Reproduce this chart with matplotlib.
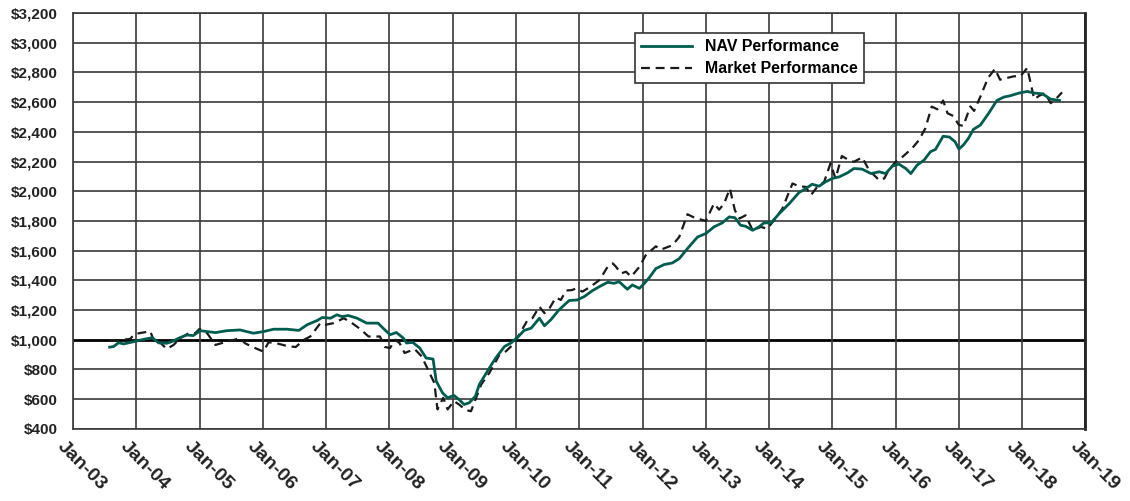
import matplotlib
matplotlib.use('Agg')
import matplotlib.pyplot as plt
import matplotlib.transforms as mtransforms
from matplotlib.ticker import FuncFormatter

plt.rcParams['font.family'] = ['Liberation Sans', 'DejaVu Sans']

# NAV performance, $ value of $1,000 invested (x = decimal year)
nav_years = [2003.58, 2003.64, 2003.72, 2003.80, 2003.96, 2004.12, 2004.25, 2004.35, 2004.48, 2004.56,
             2004.69, 2004.80, 2004.90, 2005.01, 2005.12, 2005.25, 2005.43, 2005.64, 2005.85, 2006.01,
             2006.17, 2006.38, 2006.57, 2006.70, 2006.86, 2006.94, 2007.07, 2007.17, 2007.25, 2007.35,
             2007.49, 2007.64, 2007.82, 2007.90, 2008.01, 2008.11, 2008.22, 2008.27, 2008.37, 2008.48,
             2008.58, 2008.69, 2008.74, 2008.84, 2008.92, 2009.02, 2009.10, 2009.18, 2009.26, 2009.36,
             2009.42, 2009.58, 2009.68, 2009.82, 2009.92, 2010.03, 2010.13, 2010.24, 2010.37, 2010.45,
             2010.55, 2010.68, 2010.84, 2010.97, 2011.08, 2011.21, 2011.32, 2011.45, 2011.55, 2011.63,
             2011.76, 2011.84, 2011.95, 2012.03, 2012.11, 2012.21, 2012.34, 2012.47, 2012.58, 2012.71,
             2012.87, 2013.00, 2013.13, 2013.26, 2013.37, 2013.46, 2013.55, 2013.63, 2013.74, 2013.84,
             2013.92, 2014.03, 2014.16, 2014.32, 2014.47, 2014.58, 2014.68, 2014.79, 2014.89, 2015.00,
             2015.11, 2015.24, 2015.34, 2015.47, 2015.61, 2015.74, 2015.84, 2015.95, 2016.05, 2016.16,
             2016.24, 2016.34, 2016.45, 2016.55, 2016.63, 2016.75, 2016.85, 2016.94, 2017.00, 2017.07,
             2017.15, 2017.23, 2017.34, 2017.47, 2017.60, 2017.71, 2017.81, 2017.95, 2018.08, 2018.19,
             2018.32, 2018.45, 2018.59]
nav_values = [950, 954, 980, 972, 987, 1003, 1014, 980, 976, 987,
              1014, 1032, 1028, 1061, 1055, 1048, 1061, 1066, 1044, 1055,
              1071, 1071, 1063, 1101, 1130, 1150, 1145, 1168, 1156, 1163,
              1145, 1112, 1112, 1078, 1034, 1049, 1011, 978, 982, 944,
              877, 870, 721, 642, 609, 625, 598, 564, 575, 620,
              698, 810, 877, 955, 978, 1018, 1063, 1078, 1145, 1094,
              1134, 1201, 1264, 1268, 1291, 1331, 1358, 1387, 1380, 1391,
              1340, 1369, 1346, 1380, 1420, 1479, 1506, 1517, 1546, 1614,
              1692, 1715, 1760, 1787, 1827, 1822, 1771, 1764, 1737, 1760,
              1787, 1787, 1849, 1917, 1990, 2018, 2047, 2034, 2063, 2086,
              2097, 2124, 2153, 2149, 2119, 2131, 2119, 2169, 2183, 2153,
              2119, 2176, 2210, 2266, 2282, 2370, 2365, 2333, 2284, 2311,
              2356, 2417, 2446, 2525, 2611, 2634, 2643, 2661, 2672, 2661,
              2656, 2620, 2611]

# Market performance
mkt_years = [2003.59, 2003.75, 2003.90, 2003.98, 2004.22, 2004.30, 2004.38, 2004.48, 2004.59, 2004.69,
             2004.83, 2004.93, 2005.00, 2005.12, 2005.25, 2005.43, 2005.64, 2005.72, 2005.85, 2006.01,
             2006.09, 2006.22, 2006.38, 2006.52, 2006.65, 2006.75, 2006.91, 2006.99, 2007.12, 2007.28,
             2007.41, 2007.54, 2007.67, 2007.85, 2007.93, 2008.01, 2008.09, 2008.16, 2008.24, 2008.40,
             2008.51, 2008.61, 2008.71, 2008.76, 2008.85, 2008.92, 2009.02, 2009.10, 2009.21, 2009.29,
             2009.36, 2009.45, 2009.58, 2009.74, 2009.84, 2009.95, 2010.05, 2010.18, 2010.26, 2010.37,
             2010.45, 2010.53, 2010.63, 2010.71, 2010.79, 2010.89, 2010.95, 2011.05, 2011.18, 2011.32,
             2011.45, 2011.53, 2011.58, 2011.66, 2011.74, 2011.82, 2011.95, 2012.05, 2012.21, 2012.29,
             2012.47, 2012.58, 2012.71, 2012.82, 2013.00, 2013.13, 2013.21, 2013.29, 2013.38, 2013.46,
             2013.53, 2013.63, 2013.74, 2013.87, 2013.97, 2014.08, 2014.21, 2014.37, 2014.47, 2014.58,
             2014.66, 2014.76, 2014.87, 2014.97, 2015.05, 2015.15, 2015.26, 2015.34, 2015.47, 2015.58,
             2015.74, 2015.82, 2015.89, 2016.00, 2016.11, 2016.26, 2016.37, 2016.47, 2016.57, 2016.66,
             2016.75, 2016.82, 2016.91, 2017.00, 2017.07, 2017.18, 2017.24, 2017.34, 2017.46, 2017.57,
             2017.65, 2017.76, 2017.87, 2017.97, 2018.08, 2018.19, 2018.27, 2018.36, 2018.45, 2018.53,
             2018.63]
mkt_values = [992, 999, 1005, 1039, 1057, 972, 980, 938, 965, 1010,
              1044, 1044, 1073, 1044, 965, 987, 1010, 976, 949, 920,
              983, 976, 958, 951, 1000, 1022, 1112, 1101, 1112, 1145,
              1112, 1072, 1022, 1022, 951, 944, 1000, 978, 911, 937,
              888, 799, 709, 531, 609, 531, 587, 564, 526, 519,
              598, 698, 777, 899, 922, 966, 1034, 1130, 1145, 1223,
              1179, 1212, 1284, 1268, 1331, 1335, 1346, 1324, 1358, 1402,
              1492, 1514, 1492, 1447, 1458, 1425, 1490, 1569, 1629, 1607,
              1636, 1692, 1845, 1822, 1800, 1917, 1876, 1917, 2018, 1872,
              1816, 1838, 1737, 1760, 1748, 1804, 1883, 2052, 2034, 2029,
              1973, 2029, 2063, 2187, 2086, 2237, 2210, 2198, 2228, 2142,
              2074, 2086, 2142, 2198, 2232, 2289, 2345, 2424, 2570, 2552,
              2611, 2525, 2507, 2446, 2440, 2571, 2541, 2638, 2763, 2824,
              2751, 2763, 2774, 2774, 2830, 2620, 2643, 2661, 2593, 2620,
              2666]

tick_years = list(range(2003, 2020))
tick_labels = ['Jan-%02d' % (y % 100) for y in tick_years]
y_ticks = list(range(400, 3201, 200))

fig = plt.figure(figsize=(11.3, 5.01), dpi=100)
ax = fig.add_axes([0.0646, 0.144, 0.8960, 0.830])

grid_color = '#3a3a3a'
for y in y_ticks:
    ax.axhline(y, color='black' if y == 1000 else grid_color,
               lw=2.0 if y == 1000 else 1.2, zorder=1)
for x in tick_years:
    ax.axvline(x, color=grid_color, lw=1.2, zorder=1)

ax.plot(mkt_years, mkt_values, color='#1a1a1a', lw=1.6, ls=(0, (4, 2.6)),
        label='Market Performance', zorder=3)
ax.plot(nav_years, nav_values, color='#005c4e', lw=2.0,
        label='NAV Performance', zorder=4)

ax.set_xlim(2003, 2019)
ax.set_ylim(400, 3200)
ax.set_yticks(y_ticks)
ax.yaxis.set_major_formatter(FuncFormatter(lambda v, p: '${:,.0f}'.format(v)))
ax.set_xticks(tick_years)
ax.set_xticklabels(tick_labels, rotation=-45, ha='left', va='top',
                   rotation_mode='anchor')
ax.tick_params(axis='both', length=0)
ax.tick_params(axis='y', labelsize=11, pad=11)
ax.tick_params(axis='x', labelsize=14, pad=0)
for lab in ax.get_yticklabels():
    lab.set_fontweight('bold')
    lab.set_color('#222222')
x_shift = mtransforms.ScaledTranslation(-0.07, -0.09, fig.dpi_scale_trans)
for lab in ax.get_xticklabels():
    lab.set_fontweight('bold')
    lab.set_family(['Liberation Sans Narrow', 'Liberation Sans'])
    lab.set_color('#222222')
    lab.set_transform(lab.get_transform() + x_shift)

for side in ['left', 'bottom', 'top']:
    ax.spines[side].set_color(grid_color)
    ax.spines[side].set_linewidth(1.2)
ax.spines['right'].set_color('#222222')
ax.spines['right'].set_linewidth(2.0)

handles, labels = ax.get_legend_handles_labels()
leg = ax.legend(handles[::-1], labels[::-1], loc='upper left',
                bbox_to_anchor=(0.555, 0.952), borderaxespad=0,
                fancybox=False, framealpha=1, edgecolor='#333333',
                prop={'weight': 'bold', 'size': 11.4},
                handlelength=3.2, borderpad=0.4, labelspacing=0.45)
leg.get_frame().set_linewidth(1.2)
leg.set_zorder(5)

fig.savefig('out.png', dpi=100)
